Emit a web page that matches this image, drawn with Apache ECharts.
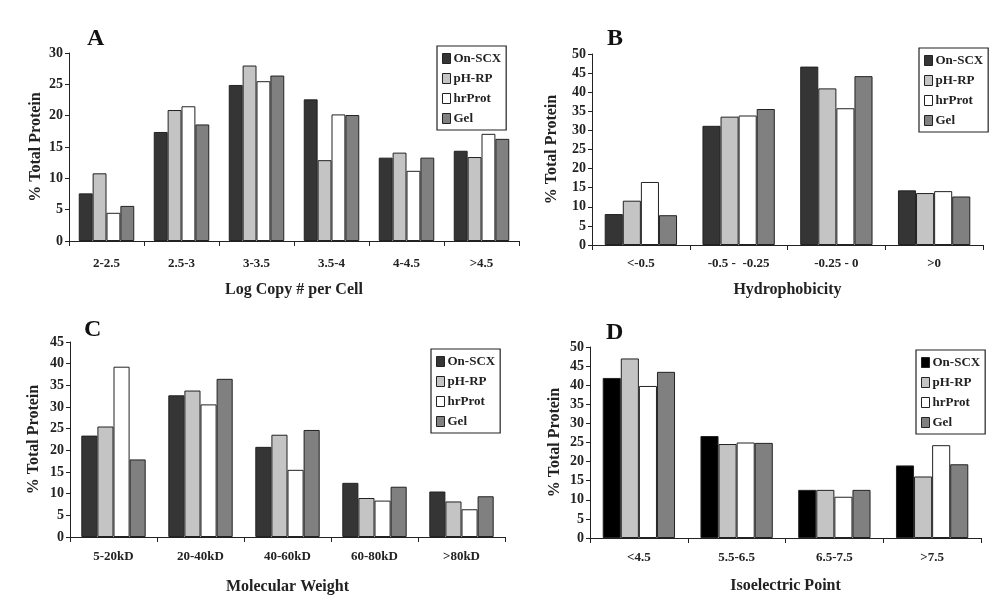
<!DOCTYPE html>
<html>
<head>
<meta charset="utf-8">
<script src="https://cdn.jsdelivr.net/npm/echarts@6/dist/echarts.min.js"></script>
</head>
<body style="margin:0;background:#fff;">
<div id="main" style="width: 1002px;height:610px;"></div>
<script type="text/javascript">
    // 数据
    var seriesNames = ['On-SCX', 'pH-RP', 'hrProt', 'Gel'];

    var catsA = ['2-2.5', '2.5-3', '3-3.5', '3.5-4', '4-4.5', '>4.5'];
    var scxA = [7.6, 17.4, 24.9, 22.6, 13.3, 14.4];
    var phrpA = [10.8, 20.9, 28.0, 12.9, 14.1, 13.4];
    var hrA = [4.5, 21.5, 25.5, 20.2, 11.2, 17.1];
    var gelA = [5.6, 18.6, 26.4, 20.1, 13.3, 16.3];

    var catsB = ['<-0.5', '-0.5 -  -0.25', '-0.25 - 0', '>0'];
    var scxB = [8.1, 31.2, 46.7, 14.3];
    var phrpB = [11.6, 33.6, 41.0, 13.6];
    var hrB = [16.5, 33.9, 35.8, 14.1];
    var gelB = [7.8, 35.6, 44.2, 12.7];

    var catsC = ['5-20kD', '20-40kD', '40-60kD', '60-80kD', '>80kD'];
    var scxC = [23.4, 32.7, 20.8, 12.5, 10.5];
    var phrpC = [25.5, 33.8, 23.6, 9.0, 8.2];
    var hrC = [39.3, 30.6, 15.5, 8.4, 6.4];
    var gelC = [17.9, 36.5, 24.7, 11.6, 9.4];

    var catsD = ['<4.5', '5.5-6.5', '6.5-7.5', '>7.5'];
    var scxD = [41.9, 26.7, 12.6, 19.0];
    var phrpD = [47.0, 24.6, 12.6, 16.1];
    var hrD = [39.8, 25.0, 10.8, 24.3];
    var gelD = [43.5, 24.9, 12.6, 19.3];

    var font = '"Liberation Serif", "DejaVu Serif", serif';
    var colorsDark = ['#353535', '#c4c4c4', '#ffffff', '#808080'];
    var colorsBlack = ['#000000', '#c4c4c4', '#ffffff', '#808080'];

    var panels = [
        {letter: 'A', cats: catsA, data: [scxA, phrpA, hrA, gelA], xname: 'Log Copy # per Cell', max: 30, interval: 5,
            grid: {left: 69, right: 483, top: 53, bottom: 369}, labelMargin: 16, nameGap: 41, yGap: 25,
            title: {left: 82, top: 22}, legend: {left: 437, top: 46}, colors: colorsDark},
        {letter: 'B', cats: catsB, data: [scxB, phrpB, hrB, gelB], xname: 'Hydrophobicity', max: 50, interval: 5,
            grid: {left: 592, right: 19, top: 54, bottom: 365}, labelMargin: 12, nameGap: 37, yGap: 32,
            title: {left: 602, top: 22}, legend: {left: 919, top: 48}, colors: colorsDark},
        {letter: 'C', cats: catsC, data: [scxC, phrpC, hrC, gelC], xname: 'Molecular Weight', max: 45, interval: 5,
            grid: {left: 70, right: 497, top: 342, bottom: 73}, labelMargin: 13, nameGap: 42, yGap: 28,
            title: {left: 79, top: 313}, legend: {left: 431, top: 349}, colors: colorsDark},
        {letter: 'D', cats: catsD, data: [scxD, phrpD, hrD, gelD], xname: 'Isoelectric Point', max: 50, interval: 5,
            grid: {left: 590, right: 21, top: 347, bottom: 72}, labelMargin: 13, nameGap: 40, yGap: 27,
            title: {left: 601, top: 316}, legend: {left: 916, top: 350}, colors: colorsBlack}
    ];

    var option = {
        backgroundColor: '#fff',
        animation: false,
        title: [], legend: [], grid: [], xAxis: [], yAxis: [], series: []
    };

    panels.forEach(function (p, i) {
        option.title.push({
            text: p.letter, left: p.title.left, top: p.title.top,
            textStyle: {fontFamily: font, fontSize: 24, fontWeight: 'bold', color: '#111'}
        });
        option.grid.push(p.grid);
        option.xAxis.push({
            type: 'category', gridIndex: i, data: p.cats,
            name: p.xname, nameLocation: 'middle', nameGap: p.nameGap,
            nameTextStyle: {fontFamily: font, fontSize: 16, fontWeight: 'bold', color: '#222'},
            axisLine: {lineStyle: {color: '#222', width: 1}},
            axisTick: {show: true, length: 5, lineStyle: {color: '#222'}},
            axisLabel: {fontFamily: font, fontSize: 13, fontWeight: 'bold', color: '#222', margin: p.labelMargin, interval: 0}
        });
        option.yAxis.push({
            type: 'value', gridIndex: i, min: 0, max: p.max, interval: p.interval,
            name: '% Total Protein', nameLocation: 'middle', nameGap: p.yGap,
            nameTextStyle: {fontFamily: font, fontSize: 16, fontWeight: 'bold', color: '#222'},
            axisLine: {show: true, lineStyle: {color: '#222', width: 1}},
            axisTick: {show: true, length: 4, lineStyle: {color: '#222'}},
            splitLine: {show: false},
            axisLabel: {fontFamily: font, fontSize: 14, fontWeight: 'bold', color: '#222', margin: 6}
        });
        var legendData = [];
        seriesNames.forEach(function (name, k) {
            legendData.push({name: name, itemStyle: {color: p.colors[k], borderColor: '#222', borderWidth: 1}});
            option.series.push({
                name: name, type: 'bar', xAxisIndex: i, yAxisIndex: i,
                data: p.data[k],
                barGap: 0, barCategoryGap: '26%',
                itemStyle: {color: p.colors[k], borderColor: '#222', borderWidth: 1}
            });
        });
        option.legend.push({
            data: legendData, orient: 'vertical', left: p.legend.left, top: p.legend.top,
            icon: 'rect', itemWidth: 8, itemHeight: 10, itemGap: 7,
            padding: [6, 5, 5, 5],
            borderColor: '#222', borderWidth: 1.2, backgroundColor: '#fff',
            selectedMode: false,
            textStyle: {fontFamily: font, fontSize: 13, fontWeight: 'bold', color: '#222', padding: [0, 0, 0, -2]}
        });
    });

    var myChart = echarts.init(document.getElementById('main'));
    myChart.setOption(option);
</script>
</body>
</html>
